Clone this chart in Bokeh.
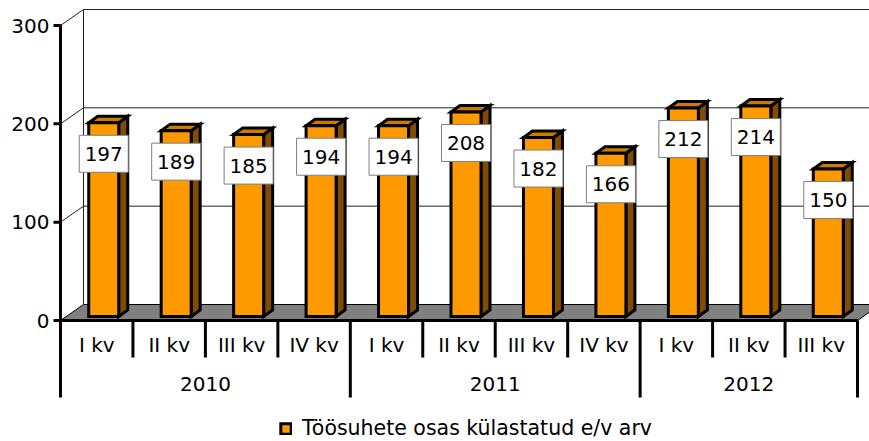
from bokeh.plotting import figure
from bokeh.models import Range1d, Legend, LegendItem
from bokeh.core.properties import value
from bokeh.embed import file_html
from bokeh.resources import INLINE

# ---------------- data ----------------
years = ["2010", "2011", "2012"]
quarters_per_year = [4, 4, 3]
quarters = ["I kv", "II kv", "III kv", "IV kv",
            "I kv", "II kv", "III kv", "IV kv",
            "I kv", "II kv", "III kv"]
values = [197, 189, 185, 194, 194, 208, 182, 166, 212, 214, 150]
y_ticks = [0, 100, 200, 300]
series_name = "Töösuhete osas külastatud e/v arv"

# ---------------- layout constants ----------------
W, H = 869, 441
FONT = "DejaVu Sans"
FS = "20px"
n = len(values)
ymax = y_ticks[-1]
SX = 797.0 / n          # pixels per category
SY = 295.0 / ymax       # pixels per value unit
X0_PX, Y0_PX = 60.0, 320.0   # canvas position of data origin


def px(d):
    return d / SX


def py(d):
    return d / SY


WX, WY = px(23), py(16)      # wall depth
FX, FY = px(7), py(4)        # bar front offset
BDX, BDY = px(9), py(6.5)    # bar depth
BW = px(30)                  # bar width

p = figure(width=W, height=H,
           x_range=Range1d(-X0_PX / SX, (W - X0_PX) / SX),
           y_range=Range1d(-(H - Y0_PX) / SY, Y0_PX / SY),
           min_border=0, toolbar_location=None, output_backend="svg",
           x_axis_location=None, y_axis_location=None,
           outline_line_color=None, background_fill_color="white",
           border_fill_color="white")
p.xgrid.visible = False
p.ygrid.visible = False

x_right = (W - X0_PX) / SX + 1
GRID = "#222222"

# walls: back wall left edge and gridlines, side wall diagonals
p.segment(x0=[WX], y0=[WY], x1=[WX], y1=[ymax + WY], line_color=GRID, line_width=1)
gv = [v for v in y_ticks if v > 0]
p.segment(x0=[WX] * len(gv), y0=[v + WY for v in gv],
          x1=[x_right] * len(gv), y1=[v + WY for v in gv],
          line_color=GRID, line_width=1)
p.segment(x0=[0] * len(gv), y0=gv, x1=[WX] * len(gv), y1=[v + WY for v in gv],
          line_color=GRID, line_width=1)

# floor
p.patch(x=[0, n, n + WX, WX], y=[0, 0, WY, WY],
        fill_color="#808080", line_color="black", line_width=1)

# bars
fx, fy, sxs, sys_, txs, tys = [], [], [], [], [], []
cxs, ly = [], []
for i, v in enumerate(values):
    c = i + 0.5 + FX
    x0, x1 = c - BW / 2, c + BW / 2
    y0, y1 = FY, v + FY
    fx.append([x0, x1, x1, x0]); fy.append([y0, y0, y1, y1])
    sxs.append([x1, x1 + BDX, x1 + BDX, x1]); sys_.append([y0, y0 + BDY, y1 + BDY, y1])
    txs.append([x0, x1, x1 + BDX, x0 + BDX]); tys.append([y1, y1, y1 + BDY, y1 + BDY])
    cxs.append(c)
    ly.append(v + FY - py(31))

side_r = p.patches(xs=sxs, ys=sys_, fill_color="#7F4C00", line_color="black",
                   line_width=3, line_join="miter")
top_r = p.patches(xs=txs, ys=tys, fill_color="#CC7A00", line_color="black",
                  line_width=3, line_join="miter")
front_r = p.patches(xs=fx, ys=fy, fill_color="#FF9900", line_color="black",
                    line_width=3, line_join="miter")

# axes lines
p.segment(x0=[0], y0=[0], x1=[n], y1=[0], line_color="black", line_width=3)
p.segment(x0=[0], y0=[-py(77)], x1=[0], y1=[ymax + py(1)], line_color="black", line_width=3)
p.segment(x0=[-px(7)] * len(y_ticks), y0=y_ticks, x1=[0] * len(y_ticks), y1=y_ticks,
          line_color="black", line_width=3)
p.text(x=[-px(11)] * len(y_ticks), y=y_ticks, text=[str(t) for t in y_ticks],
       text_font=value(FONT), text_font_size=FS, text_align="right",
       text_baseline="middle", text_color="black")

# category separators
year_bounds = [0]
for q in quarters_per_year:
    year_bounds.append(year_bounds[-1] + q)
sep_x, sep_y1 = [], []
for b in range(1, n + 1):
    sep_x.append(b)
    sep_y1.append(-py(77) if b in year_bounds else -py(37))
p.segment(x0=sep_x, y0=[0] * len(sep_x), x1=sep_x, y1=sep_y1,
          line_color="black", line_width=3)

p.text(x=[i + 0.5 for i in range(n)], y=[-py(24)] * n, text=quarters,
       text_font=value(FONT), text_font_size=FS, text_align="center",
       text_baseline="middle", text_color="black")
p.text(x=[(year_bounds[k] + year_bounds[k + 1]) / 2 for k in range(len(years))],
       y=[-py(63)] * len(years), text=years,
       text_font=value(FONT), text_font_size=FS, text_align="center",
       text_baseline="middle", text_color="black")

# value labels
p.rect(x=cxs, y=ly, width=49, height=37, width_units="screen", height_units="screen",
       fill_color="white", line_color="#7f7f7f", line_width=1)
p.text(x=cxs, y=ly, text=[str(v) for v in values],
       text_font=value(FONT), text_font_size=FS, text_align="center",
       text_baseline="middle", text_color="black")

legend = Legend(items=[LegendItem(label=series_name, renderers=[front_r])],
                location=(279, 1), orientation="horizontal",
                glyph_width=13, glyph_height=13, label_standoff=10,
                padding=0, margin=0, border_line_color=None,
                background_fill_alpha=0,
                label_text_font=FONT, label_text_font_size="20.5px",
                label_text_color="black")
p.add_layout(legend)

open("out.html", "w").write(file_html(p, INLINE))
